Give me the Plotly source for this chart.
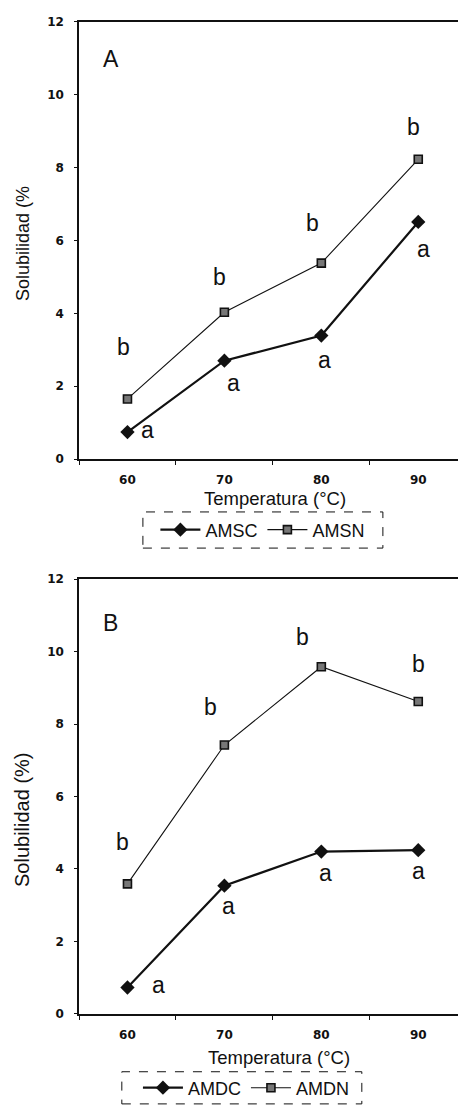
import plotly.graph_objects as go

temps = [60, 70, 80, 90]
tick_labels = ["60", "70", "80", "90"]
y_ticks = [0, 2, 4, 6, 8, 10, 12]
y_tick_labels = ["0", "2", "4", "6", "8", "10", "12"]

# Panel A
amsc = [0.74, 2.70, 3.39, 6.51]
amsn = [1.65, 4.03, 5.38, 8.23]
# Panel B
amdc = [0.73, 3.54, 4.48, 4.52]
amdn = [3.59, 7.42, 9.58, 8.62]

# significance letters (text, x, y) per panel
letters_a_text = ["b", "b", "b", "b", "a", "a", "a", "a"]
letters_a_x = [59.6, 69.5, 79.1, 89.5, 62.1, 70.9, 80.3, 90.5]
letters_a_y = [3.08, 5.0, 6.49, 9.13, 0.8, 2.1, 2.72, 5.77]
letters_b_text = ["b", "b", "b", "b", "a", "a", "a", "a"]
letters_b_x = [59.5, 68.6, 78.1, 90.0, 63.2, 70.4, 80.4, 90.0]
letters_b_y = [4.75, 8.48, 10.41, 9.66, 0.8, 2.98, 3.88, 3.94]

panel_labels = ["A", "B"]
panel_label_x = [58.3, 58.3]
panel_label_y = [10.99, 10.79]

x_title = "Temperatura (°C)"
y_titles = ["Solubilidad (%", "Solubilidad (%)"]

INK = "#111111"

fig = go.Figure()

def add_pair(c_vals, n_vals, c_name, n_name, xa, ya, legend):
    fig.add_trace(go.Scatter(
        x=temps, y=c_vals, name=c_name, mode="lines+markers",
        line=dict(color=INK, width=2.2),
        marker=dict(symbol="diamond", size=11, color=INK),
        xaxis=xa, yaxis=ya, legend=legend))
    fig.add_trace(go.Scatter(
        x=temps, y=n_vals, name=n_name, mode="lines+markers",
        line=dict(color=INK, width=1.1),
        marker=dict(symbol="square", size=8, color="#777777",
                    line=dict(color=INK, width=1.6)),
        xaxis=xa, yaxis=ya, legend=legend))

add_pair(amsc, amsn, "AMSC", "AMSN", "x", "y", "legend")
add_pair(amdc, amdn, "AMDC", "AMDN", "x2", "y2", "legend2")

letter_font = dict(family="Liberation Sans, Arial", size=23, color=INK)
annotations = []
for t, x, y in zip(letters_a_text, letters_a_x, letters_a_y):
    annotations.append(dict(text=t, x=x, y=y, xref="x", yref="y",
                            showarrow=False, font=letter_font))
for t, x, y in zip(letters_b_text, letters_b_x, letters_b_y):
    annotations.append(dict(text=t, x=x, y=y, xref="x2", yref="y2",
                            showarrow=False, font=letter_font))
for i, (t, x, y) in enumerate(zip(panel_labels, panel_label_x, panel_label_y)):
    annotations.append(dict(text=t, x=x, y=y,
                            xref="x" if i == 0 else "x2",
                            yref="y" if i == 0 else "y2",
                            showarrow=False, font=letter_font))

# axis titles (placed as paper annotations to match the scan)
annotations += [
    dict(text=x_title, x=0.600, y=0.5493, xref="paper", yref="paper",
         xanchor="center", yanchor="middle", showarrow=False,
         font=dict(family="Liberation Sans, Arial", size=18.5, color=INK)),
    dict(text=x_title, x=0.609, y=0.0434, xref="paper", yref="paper",
         xanchor="center", yanchor="middle", showarrow=False,
         font=dict(family="Liberation Sans, Arial", size=18.5, color=INK)),
    dict(text=y_titles[0], x=0.050, y=0.780, xref="paper", yref="paper",
         xanchor="center", yanchor="middle", textangle=-90, showarrow=False,
         font=dict(family="Liberation Sans, Arial", size=18, color=INK)),
    dict(text=y_titles[1], x=0.048, y=0.2588, xref="paper", yref="paper",
         xanchor="center", yanchor="middle", textangle=-90, showarrow=False,
         font=dict(family="Liberation Sans, Arial", size=20, color=INK)),
]

tick_font = dict(family="DejaVu Sans", size=12, color=INK)

def xaxis_cfg(domain_anchor):
    return dict(
        domain=[0.1725, 1.0], range=[55, 94.1], anchor=domain_anchor,
        automargin=False,
        tickvals=temps, ticktext=["<b>%s</b>" % t for t in tick_labels],
        ticks="", ticklabelstandoff=9,
        showgrid=False, zeroline=False,
        showline=True, linecolor=INK, linewidth=2, mirror=True,
        tickfont=tick_font,
        minor=dict(tick0=65, dtick=10, ticks="outside", ticklen=4,
                   tickcolor=INK, showgrid=False),
    )

def yaxis_cfg(domain, anchor):
    return dict(
        domain=domain, range=[0, 12], anchor=anchor,
        automargin=False,
        tickvals=y_ticks, ticktext=["<b>%s</b>" % t for t in y_tick_labels],
        ticks="outside", ticklen=3, tickcolor=INK, ticklabelstandoff=8,
        showgrid=False, zeroline=False,
        showline=True, linecolor=INK, linewidth=1.5,
        tickfont=tick_font,
    )

legend_font = dict(family="Liberation Sans, Arial", size=18, color=INK)

fig.update_layout(
    width=458, height=1105,
    margin=dict(l=0, r=0, t=0, b=0, autoexpand=False),
    paper_bgcolor="white", plot_bgcolor="white",
    showlegend=True,
    xaxis=xaxis_cfg("y"),
    yaxis=yaxis_cfg([0.5846, 0.9801], "x"),
    xaxis2=xaxis_cfg("y2"),
    yaxis2=yaxis_cfg([0.0824, 0.476], "x2"),
    legend=dict(orientation="h", x=0.574, y=0.5204, xanchor="center",
                yanchor="middle", font=legend_font,
                bgcolor="rgba(0,0,0,0)", borderwidth=0, itemwidth=40),
    legend2=dict(orientation="h", x=0.537, y=0.0154, xanchor="center",
                 yanchor="middle", font=legend_font,
                 bgcolor="rgba(0,0,0,0)", borderwidth=0, itemwidth=40),
    annotations=annotations,
    shapes=[
        dict(type="rect", xref="paper", yref="paper",
             x0=0.312, x1=0.836, y0=0.504, y1=0.5367,
             line=dict(color=INK, width=1, dash="dash")),
        dict(type="rect", xref="paper", yref="paper",
             x0=0.266, x1=0.790, y0=0.001, y1=0.0301,
             line=dict(color=INK, width=1, dash="dash")),
    ],
)

fig.write_html(
    "out.html",
    config={"displayModeBar": False},
    post_script="document.body.style.margin='0';document.body.style.overflow='hidden';",
)
